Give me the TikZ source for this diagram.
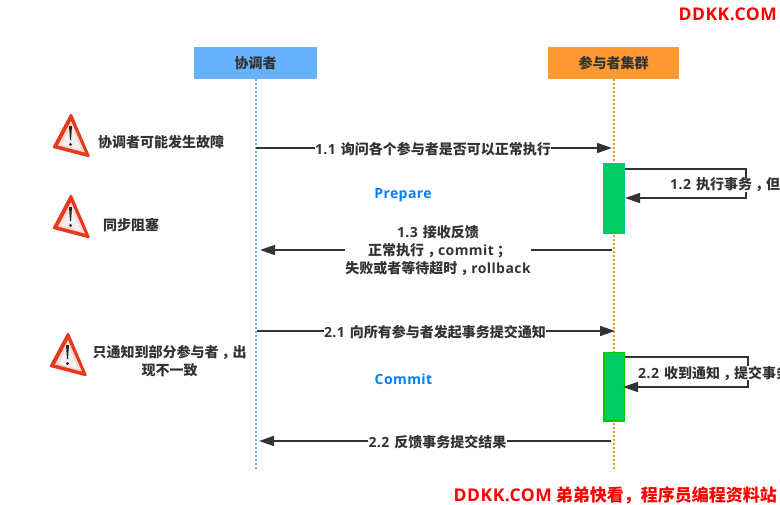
\documentclass[tikz,border=0pt]{standalone}
\usepackage{fontspec}
\setmainfont{Noto Sans CJK SC}
\newfontfamily\lat{Open Sans}[LetterSpace=3]
\newcommand{\wpunct}[1]{\makebox[14pt][l]{\hspace{3.2pt}#1}}
\newcommand{\numlbl}[1]{{\lat #1}\hspace{5pt}}
\usetikzlibrary{arrows.meta}
\definecolor{inkgrey}{HTML}{333333}
\definecolor{coordblue}{HTML}{66B2FF}
\definecolor{partorange}{HTML}{FF9933}
\definecolor{barfill}{HTML}{00CC66}
\definecolor{barline}{HTML}{00CC00}
\definecolor{phaseblue}{HTML}{007FFF}
\definecolor{warnred}{HTML}{E63A1E}
\tikzset{
  lbl/.style={inner sep=0pt,text=inkgrey,font=\bfseries\fontsize{14}{18}\selectfont,align=center},
  actor/.style={lbl,minimum height=32pt},
  phase/.style={lbl,text=phaseblue,font=\lat\bfseries\fontsize{14}{18}\selectfont},
  sitemark/.style={inner sep=0pt,text=red,font=\bfseries\fontsize{17}{20}\selectfont},
  lifeline/.style={line width=2pt,dash pattern=on 2pt off 2pt},
  activebar/.style={minimum width=22pt,inner sep=0pt,fill=barfill},
  msg/.style={draw=inkgrey,line width=1.6pt},
  tip/.style={msg,-{Triangle[length=15pt,width=10pt]}},
  warnicon/.pic={
    \fill[warnred,draw=warnred,line width=2.4pt,line join=round] (0,1) -- (-17,33) -- (17.5,42) -- cycle;
    \fill[white!80!warnred] (0,7) -- (-13,31.5) -- (14,38.5) -- cycle;
    \fill[black!6] (0,12) -- (-9.5,30.5) -- (10.5,36) -- cycle;
    \fill[black!85] (-2,12) -- (1,12) -- (0,26) -- (-1,26) -- cycle;
    \fill[black!85] (-0.5,30.5) circle (1.6pt);
  }
}
\begin{document}
\begin{tikzpicture}[x=1pt,y=-1pt]
  \useasboundingbox (0,0) rectangle (780,504);

  \node[actor,fill=coordblue,minimum width=123pt] (coord) at (255.5,63) {协调者};
  \node[actor,fill=partorange,minimum width=131pt] (part) at (613.5,63) {参与者集群};
  \coordinate (coordend) at (255.5,470);
  \coordinate (partend) at (613.5,470);
  \draw[coordblue,lifeline] (coord.south) -- (coordend);
  \draw[partorange,lifeline] (part.south) -- (partend);

  \node[activebar,minimum height=71pt] (bar1) at (614,198.5) {};
  \node[activebar,draw=barline,line width=1.5pt,minimum width=20.5pt,minimum height=68.5pt] (bar2) at (614,386.5) {};

  % ends of the messages
  \coordinate (a1) at (256,148);
  \coordinate (b1) at (612,148);
  \coordinate (b3) at (612,250);
  \coordinate (a3) at (260,250);
  \coordinate (a4) at (257,331);
  \coordinate (b4) at (615,331);
  \coordinate (b5) at (611,441);
  \coordinate (a5) at (259,441);

  \node[lbl] (m1) at (433,149) {\numlbl{1.1}询问各个参与者是否可以正常执行};
  \node[lbl] (m3) at (438,251) {\numlbl{1.3}接收反馈\\正常执行\wpunct{，}{\lat commit}\wpunct{；}\\失败或者等待超时\wpunct{，}{\lat rollback}};
  \node[lbl] (m4) at (435,332) {\numlbl{2.1}向所有参与者发起事务提交通知};
  \node[lbl] (m5) at (437.5,442) {\numlbl{2.2}反馈事务提交结果};

  \foreach \from/\to/\side in {a1/m1/west,b3/m3/east,a4/m4/west,b5/m5/east}
    \draw[msg] (\from) -- (\from -| \to.\side);
  \foreach \from/\to/\side in {m1/b1/east,m3/a3/west,m4/b4/east,m5/a5/west}
    \draw[tip] (\to -| \from.\side) -- (\to);

  % self messages
  \coordinate (s1a) at (625,169);
  \coordinate (s1b) at (746,169);
  \coordinate (s1c) at (746,198);
  \coordinate (s1d) at (625,198);
  \coordinate (s2a) at (625,357);
  \coordinate (s2b) at (748,357);
  \coordinate (s2c) at (748,387);
  \coordinate (s2d) at (623,387);
  \draw[tip] (s1a) -- (s1b) -- (s1c) -- (s1d);
  \draw[tip] (s2a) -- (s2b) -- (s2c) -- (s2d);
  \node[lbl,fill=white,anchor=west] (m2) at (670,185) {\numlbl{1.2}执行事务\wpunct{，}但};
  \node[lbl,fill=white,anchor=west] (m6) at (638,373) {\numlbl{2.2}收到通知\wpunct{，}提交事务};

  \node[phase] (prepare) at (403,195.5) {Prepare};
  \node[phase] (commit) at (403.5,379) {Commit};

  \pic at (71,114) {warnicon};
  \pic at (71,195) {warnicon};
  \pic at (68,333) {warnicon};
  \node[lbl] (w1) at (161,142) {协调者可能发生故障};
  \node[lbl] (w2) at (131,225.5) {同步阻塞};
  \node[lbl] (w3) at (169.5,361) {只通知到部分参与者\wpunct{，}出\\现不一致};

  \node[sitemark,anchor=east] (site) at (777,14) {\fontsize{17.5}{20}\selectfont\lat DDKK.COM};
  \node[sitemark,anchor=east] (slogan) at (777,495) {{\fontsize{17.5}{20}\selectfont\lat DDKK.COM} 弟弟快看，程序员编程资料站};
\end{tikzpicture}
\end{document}
